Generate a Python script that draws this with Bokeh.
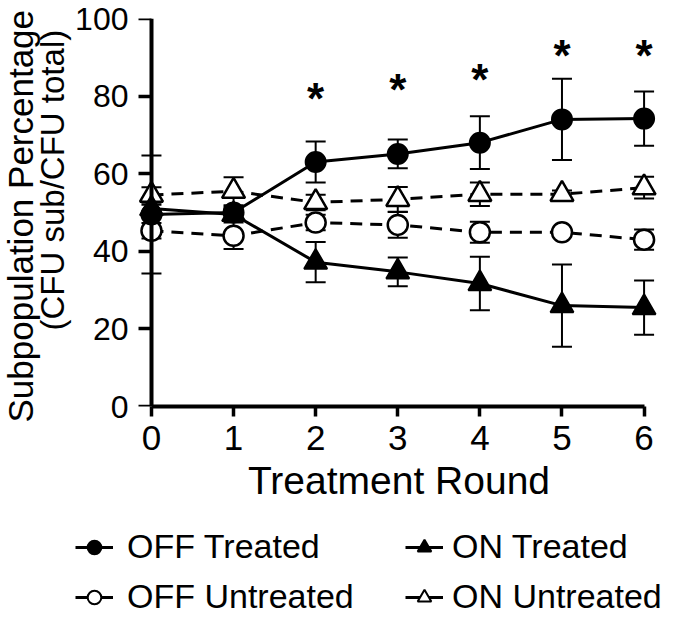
from bokeh.plotting import figure
from bokeh.models import (Range1d, Whisker, TeeHead, ColumnDataSource, Legend,
                          LegendItem, Title, FixedTicker, LinearAxis)
from bokeh.core.properties import value
from bokeh.embed import file_html
from bokeh.resources import INLINE

FONT = "Liberation Sans"

# ---------------- data ----------------
rounds = [0, 1, 2, 3, 4, 5, 6]
y_ticks = [0, 20, 40, 60, 80, 100]

off_treated = [49.5, 50.0, 63.0, 65.1, 68.0, 74.0, 74.2]
off_treated_err = [15.2, 1.5, 5.3, 3.7, 6.8, 10.5, 7.0]

on_treated = [51.0, 49.5, 37.2, 34.7, 31.7, 26.0, 25.5]
on_treated_err = [1.0, 1.5, 5.2, 3.7, 6.9, 10.6, 7.0]

off_untreated = [45.3, 44.0, 47.4, 46.8, 44.9, 44.9, 43.0]
off_untreated_err = [2.0, 3.4, 2.0, 3.3, 2.7, 1.0, 2.6]

on_untreated = [54.5, 55.5, 52.6, 53.4, 54.7, 54.7, 56.4]
on_untreated_err = [2.0, 3.6, 2.0, 3.2, 3.0, 1.0, 2.8]

star_rounds = [2, 3, 4, 5, 6]
star_heights = [80.6, 83.0, 85.6, 91.7, 91.8]

# ---------------- main figure ----------------
p = figure(width=675, height=520, output_backend="svg", toolbar_location=None,
           x_range=Range1d(-0.17, 6.2), y_range=Range1d(0, 100),
           min_border_left=137, min_border_right=15, min_border_top=18,
           min_border_bottom=114)
p.outline_line_color = None
p.grid.visible = False
p.background_fill_color = "white"
p.border_fill_color = "white"

# x axis
xa = p.xaxis[0]
xa.ticker = FixedTicker(ticks=rounds)
xa.bounds = (rounds[0], rounds[-1])
xa.axis_line_width = 4
xa.axis_line_color = "black"
xa.major_tick_line_width = 3.5
xa.major_tick_line_color = "black"
xa.major_tick_in = 0
xa.major_tick_out = 10
xa.minor_tick_line_color = None
xa.major_label_standoff = 9
xa.major_label_text_font = FONT
xa.major_label_text_font_size = "35px"
xa.major_label_text_color = "black"
xa.axis_label = "Treatment Round"
xa.axis_label_text_font = FONT
xa.axis_label_text_font_size = "39px"
xa.axis_label_text_font_style = "normal"
xa.axis_label_text_color = "black"
xa.axis_label_standoff = 6

# y axis: labels only, at the frame edge
ya = p.yaxis[0]
ya.ticker = FixedTicker(ticks=y_ticks)
ya.axis_line_color = None
ya.major_tick_line_color = None
ya.minor_tick_line_color = None
ya.major_tick_in = 0
ya.major_tick_out = 0
ya.major_label_standoff = 9
ya.major_label_text_font = FONT
ya.major_label_text_font_size = "32px"
ya.major_label_text_color = "black"

# y axis line and ticks at x = 0
ya2 = LinearAxis(fixed_location=0, ticker=FixedTicker(ticks=y_ticks),
                 bounds=(y_ticks[0], y_ticks[-1]),
                 axis_line_width=4, axis_line_color="black",
                 major_tick_line_width=3.5, major_tick_line_color="black",
                 major_tick_in=13, major_tick_out=0,
                 minor_tick_line_color=None,
                 major_label_overrides={t: "" for t in y_ticks},
                 major_label_standoff=0)
p.add_layout(ya2, "right")

# y-axis titles (two lines)
t2 = Title(text="(CFU sub/CFU total)", align="left", offset=76,
           vertical_align="bottom", text_font=FONT, text_font_size="33px",
           text_font_style="normal", text_color="black", standoff=4)
t1 = Title(text="Subpopulation Percentage", align="left", offset=-16,
           vertical_align="bottom", text_font=FONT, text_font_size="35px",
           text_font_style="normal", text_color="black", standoff=0)
try:
    t1.standoff = -21
except Exception:
    t1.standoff = 0
p.add_layout(t2, "left")
p.add_layout(t1, "left")

# ---------------- error bars ----------------
def add_err(vals, errs):
    src = ColumnDataSource(dict(
        x=rounds,
        upper=[v + e for v, e in zip(vals, errs)],
        lower=[v - e for v, e in zip(vals, errs)],
    ))
    w = Whisker(source=src, base="x", upper="upper", lower="lower",
                dimension="height", line_width=2, line_color="black",
                upper_head=TeeHead(size=20, line_width=2, line_color="black"),
                lower_head=TeeHead(size=20, line_width=2, line_color="black"),
                level="underlay")
    p.add_layout(w)

for v, e in ((off_treated, off_treated_err), (on_treated, on_treated_err),
             (off_untreated, off_untreated_err), (on_untreated, on_untreated_err)):
    add_err(v, e)

# ---------------- lines and markers ----------------
DASH = "12 8"
STYLES = {
    "OFF Treated": dict(marker="circle", size=20, fill="black", dash="solid", lw=2),
    "OFF Untreated": dict(marker="circle", size=20, fill="white", dash=DASH, lw=2.5),
    "ON Treated": dict(marker="triangle", size=23, fill="black", dash="solid", lw=2),
    "ON Untreated": dict(marker="triangle", size=23, fill="white", dash=DASH, lw=2.5),
}
SERIES = {
    "OFF Treated": off_treated,
    "OFF Untreated": off_untreated,
    "ON Treated": on_treated,
    "ON Untreated": on_untreated,
}

for name in ("OFF Untreated", "ON Untreated", "OFF Treated", "ON Treated"):
    st = STYLES[name]
    p.line(rounds, SERIES[name], line_width=3, color="black", line_dash=st["dash"])
for name in ("OFF Untreated", "ON Untreated", "ON Treated", "OFF Treated"):
    st = STYLES[name]
    p.scatter(rounds, SERIES[name], marker=st["marker"], size=st["size"],
              fill_color=st["fill"], line_color="black", line_width=st["lw"])

# significance stars
p.text(star_rounds, star_heights, text=["*"] * len(star_rounds),
       text_font=value(FONT), text_font_size="44px", text_font_style="bold",
       text_align="center", text_baseline="alphabetic", y_offset=5,
       text_color="black")

# ---------------- legend (separate strip below, its own root) ----------------
# the strip's ranges lie far from the data, so only the legend is visible there
lf = figure(width=675, height=98, output_backend="svg", toolbar_location=None,
            x_axis_type=None, y_axis_type=None, min_border=0,
            x_range=Range1d(100, 101), y_range=Range1d(1000, 1001))
lf.outline_line_color = None
lf.grid.visible = False
lf.background_fill_color = "white"
lf.border_fill_color = "white"

def legend_item(name):
    st = STYLES[name]
    r_line = lf.line(rounds, SERIES[name], line_width=3, color="black")
    r_mark = lf.scatter(rounds, SERIES[name], marker=st["marker"], size=st["size"],
                        fill_color=st["fill"], line_color="black", line_width=2)
    return LegendItem(label=name, renderers=[r_line, r_mark])

def make_legend(names, loc, standoff):
    lg = Legend(items=[legend_item(n) for n in names], location=loc,
                orientation="vertical", padding=0, margin=0, spacing=11,
                glyph_width=38, glyph_height=34, label_height=34,
                label_standoff=standoff, label_text_font=FONT,
                label_text_font_size="34px", label_text_color="black",
                background_fill_alpha=0, border_line_color=None)
    lf.add_layout(lg, "center")

make_legend(["OFF Treated", "OFF Untreated"], (75, 2), 14)
make_legend(["ON Treated", "ON Untreated"], (405, 2), 9)

open("out.html", "w").write(file_html([p, lf], INLINE))
